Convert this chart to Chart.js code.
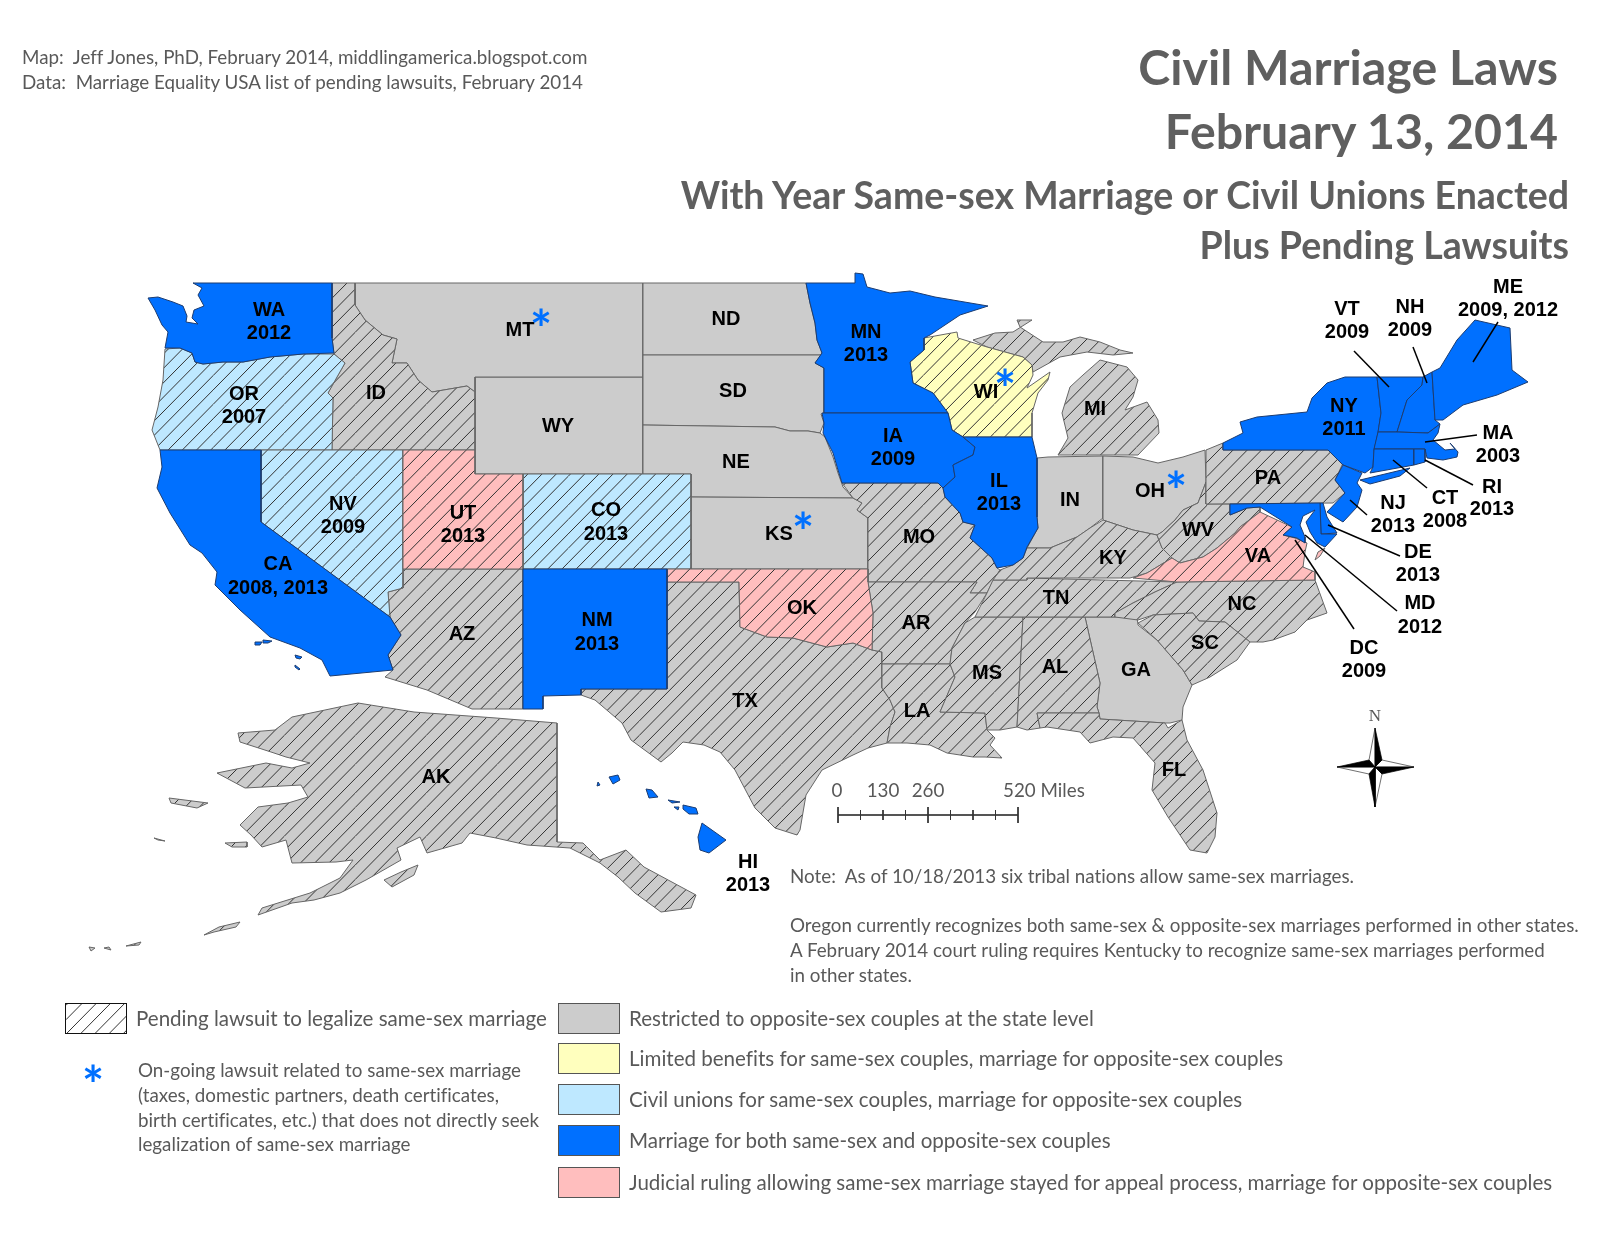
<!DOCTYPE html>
<html>
<head>
<meta charset="utf-8">
<title>Civil Marriage Laws</title>
<script src="https://cdn.jsdelivr.net/npm/chart.js@4"></script>
<style>
body { margin: 0; background: #fff; width: 1600px; height: 1237px; overflow: hidden; position: relative; font-family: Lato, sans-serif; color: #595959; font-variant-ligatures: none; }
canvas { position: absolute; left: 0; top: 0; }
.t { position: absolute; white-space: pre; line-height: 1; }
.r { transform: translateY(-50%); }
.title { font-weight: 700; right: 42px; font-size: 48.3px; color: #5f5f5f; }
.sub { font-weight: 700; right: 31px; font-size: 37.5px; color: #5f5f5f; }
.small { font-size: 18.8px; }
.leg { font-size: 20.55px; }
.swatch { position: absolute; width: 60px; height: 29px; border: 1px solid #555; }
</style>
</head>
<body>
<canvas id="map" width="1600" height="1237"></canvas>
<div class="t title r" style="top:66px">Civil Marriage Laws</div>
<div class="t title r" style="top:130px">February 13, 2014</div>
<div class="t sub r" style="top:195px">With Year Same-sex Marriage or Civil Unions Enacted</div>
<div class="t sub r" style="top:245px">Plus Pending Lawsuits</div>
<div class="t small r" style="left:22px;top:57px">Map:  Jeff Jones, PhD, February 2014, middlingamerica.blogspot.com</div>
<div class="t small r" style="left:22px;top:82px">Data:  Marriage Equality USA list of pending lawsuits, February 2014</div>
<div class="t small r" style="left:790px;top:876px">Note:  As of 10/18/2013 six tribal nations allow same-sex marriages.</div>
<div class="t small r" style="left:790px;top:925px">Oregon currently recognizes both same-sex &amp; opposite-sex marriages performed in other states.</div>
<div class="t small r" style="left:790px;top:950px">A February 2014 court ruling requires Kentucky to recognize same-sex marriages performed</div>
<div class="t small r" style="left:790px;top:975px">in other states.</div>
<div class="t small r" style="left:837px;top:790px;transform:translate(-50%,-50%)">0</div>
<div class="t small r" style="left:883px;top:790px;transform:translate(-50%,-50%)">130</div>
<div class="t small r" style="left:928px;top:790px;transform:translate(-50%,-50%)">260</div>
<div class="t small r" style="left:1003px;top:790px">520 Miles</div>
<div class="t r" style="left:1375px;top:715px;transform:translate(-50%,-50%);font-family:'Liberation Serif';font-size:17px">N</div>
<div id="legend"></div>

<script>
// law categories and legend text
const lawColors = { restricted: '#cccccc', limited: '#ffffbe', civil: '#bee8ff', marriage: '#0070ff', stayed: '#ffbebe' };
const legendKeys = ['restricted', 'limited', 'civil', 'marriage', 'stayed'];
const legendLabels = [
    'Restricted to opposite-sex couples at the state level',
    'Limited benefits for same-sex couples, marriage for opposite-sex couples',
    'Civil unions for same-sex couples, marriage for opposite-sex couples',
    'Marriage for both same-sex and opposite-sex couples',
    'Judicial ruling allowing same-sex marriage stayed for appeal process, marriage for opposite-sex couples'
];
const marriageStates = ['WA','CA','MN','IA','IL','NM','NY','VT','NH','ME','MA','CT','RI','NJ','DE','MD','HI'];
const civilStates = ['OR','NV','CO'];
const stayedStates = ['UT','OK','VA'];
const limitedStates = ['WI'];
const pendingStates = ['OR','NV','CO','UT','OK','VA','WI','ID','AZ','TX','MO','AR','LA','MS','AL','TN','KY','WV','NC','SC','FL','PA','MI','AK'];

// state outlines, flat x,y in map units
const WA = [193,283,332,283,332,338,334,353,303,354,270,357,243,362,223,362,203,364,195,362,192,353,180,348,165,348,168,332,162,325,155,310,148,298,158,297,173,302,183,306,187,316,186,322,198,324,192,318,194,310,204,306,198,295,202,288];
const OR = [165,349,180,348,192,353,195,362,203,364,223,362,243,362,270,357,303,354,334,354,345,363,337,377,328,393,333,398,332,450,160,450,152,430,158,407,163,380];
const CA = [160,450,261,450,261,522,390,617,401,635,388,655,393,670,330,676,322,660,300,648,270,637,240,610,215,585,217,572,202,553,190,545,170,513,157,488,162,467];
const CA2 = [255,642,262,642,260,645,255,645];
const CA3 = [263,640,272,641,268,643,263,643];
const CA4 = [295,655,302,657,300,659,296,658];
const CA5 = [295,665,300,669,299,670,295,667];
const NV = [261,450,403,450,403,588,388,592,390,617,261,522];
const ID = [332,283,355,283,355,305,365,320,383,335,397,339,392,363,407,363,418,380,432,392,467,386,475,392,475,450,332,450,333,398,328,393,337,377,345,363,334,354,332,338];
const MT = [355,283,643,283,643,377,475,377,475,392,467,386,432,392,418,380,407,363,392,363,397,339,383,335,365,320,355,305];
const WY = [475,377,643,377,643,474,475,474];
const UT = [403,450,475,450,475,474,523,474,523,569,403,569];
const AZ = [403,569,523,569,523,709,472,709,427,690,385,677,393,670,388,655,401,635,390,617,388,592,403,588];
const CO = [523,474,691,474,691,569,523,569];
const NM = [523,569,667,569,667,689,581,689,581,695,543,696,543,709,523,709];
const ND = [643,283,806,283,810,303,815,323,817,340,822,353,821,355,643,355];
const SD = [643,355,821,355,815,363,824,368,824,413,821,414,824,423,820,433,808,431,790,431,775,427,643,425];
const NE = [643,425,775,427,790,431,808,431,820,433,825,437,833,457,838,473,843,487,853,498,691,497,691,474,643,474];
const KS = [691,497,853,498,862,503,857,510,868,518,868,569,691,569];
const OK = [667,569,868,569,868,582,873,613,872,650,853,643,827,647,793,638,767,637,740,627,739,582,667,582];
const TX = [667,582,739,582,740,627,767,637,793,638,827,647,853,643,872,650,882,652,882,688,890,700,895,712,890,727,887,743,868,748,853,755,822,770,806,795,800,830,797,835,775,828,755,808,735,770,720,752,704,745,683,742,672,753,661,762,631,740,622,723,595,700,581,695,581,689,667,689];
const MN = [806,283,855,283,855,273,863,274,867,287,890,293,910,291,935,297,988,306,960,315,930,335,924,338,924,350,910,362,913,383,933,393,948,413,824,413,824,368,815,363,822,353,817,340,815,323,810,303];
const WI = [924,338,957,332,958,338,987,347,1023,357,1032,365,1033,375,1027,388,1050,372,1048,380,1038,393,1032,413,1032,437,963,437,952,430,948,413,933,393,913,383,910,362,924,350];
const IA = [822,413,948,413,952,430,963,437,975,447,973,455,953,465,955,477,943,488,938,483,842,483,838,470,833,453,823,433,824,423];
const IL = [963,437,1032,437,1037,458,1037,517,1038,528,1027,547,1023,558,1013,565,997,568,992,558,970,538,975,525,963,522,960,513,945,497,943,488,955,477,953,465,973,455,975,447];
const MO = [842,483,938,483,943,488,945,497,960,513,963,522,975,525,970,538,992,558,997,568,1000,570,992,583,987,593,970,593,977,582,868,582,868,518,857,510,862,503,853,498];
const AR = [868,582,977,582,970,593,987,593,975,612,965,623,952,648,950,664,882,664,882,652,872,650,873,613];
const LA = [882,664,950,664,955,677,940,712,985,713,987,730,995,738,990,745,1002,758,985,757,973,757,947,753,930,745,907,743,887,743,890,727,895,712,890,700,882,688];
const MS = [975,617,1023,617,1017,727,1000,730,987,730,985,713,940,712,955,677,950,664,952,648,965,623];
const AL = [1023,617,1085,617,1100,683,1097,707,1099,713,1037,713,1040,728,1027,730,1017,727];
const GA = [1085,617,1137,617,1138,625,1157,640,1183,670,1192,685,1183,707,1182,720,1170,723,1165,723,1100,719,1099,713,1097,707,1100,683];
const FL = [1037,713,1099,713,1100,719,1165,723,1168,728,1182,720,1187,740,1203,770,1217,813,1215,837,1207,853,1190,850,1168,817,1152,790,1155,763,1133,738,1113,737,1090,743,1080,732,1047,727,1040,728];
const SC = [1138,623,1153,615,1193,613,1199,621,1225,622,1250,642,1237,660,1210,677,1192,685,1183,670,1157,640];
const NC = [1115,613,1133,603,1155,592,1177,582,1315,580,1327,613,1307,620,1295,632,1273,640,1263,642,1250,642,1225,622,1199,621,1193,613,1153,615,1138,620,1115,617];
const TN = [975,617,987,593,993,580,1027,580,1027,578,1177,582,1155,592,1133,603,1115,613,1115,617,1085,617,1023,617];
const KY = [1000,570,1013,565,1023,558,1027,548,1050,548,1077,537,1090,528,1103,520,1133,530,1157,535,1162,548,1172,558,1147,573,1130,578,1027,578,1027,580,993,580];
const IN = [1037,458,1048,457,1103,456,1103,518,1090,528,1077,537,1050,548,1027,548,1038,528,1037,517];
const OH = [1103,456,1133,457,1158,463,1183,457,1205,450,1206,482,1198,503,1183,510,1175,520,1162,532,1157,535,1133,530,1103,520,1103,518];
const MI = [1058,455,1068,438,1062,413,1070,387,1083,375,1100,360,1127,367,1138,380,1133,397,1125,410,1147,402,1158,420,1159,433,1138,455];
const MI2 = [973,340,995,333,1013,332,1032,320,1017,320,1020,327,1043,342,1063,342,1080,337,1100,342,1120,350,1133,353,1113,355,1087,352,1060,357,1033,372,1032,365,1023,357,987,347];
const PA = [1206,450,1223,443,1223,450,1328,450,1343,463,1335,480,1345,493,1333,503,1206,504];
const NY = [1223,443,1243,433,1240,422,1257,417,1307,412,1312,398,1327,383,1345,377,1377,377,1381,413,1378,433,1374,450,1373,467,1365,473,1343,465,1328,450,1223,450];
const NY2 = [1360,480,1410,468,1400,476,1370,484];
const VT = [1377,377,1423,377,1422,385,1407,400,1397,432,1378,432,1381,413];
const NH = [1423,377,1432,372,1435,420,1440,424,1428,433,1397,432,1407,400,1422,385];
const ME = [1432,372,1440,368,1457,340,1475,320,1510,328,1512,370,1528,382,1497,395,1463,405,1443,420,1435,420];
const MA = [1378,432,1397,432,1428,433,1440,424,1438,433,1433,440,1445,450,1455,449,1450,443,1458,452,1457,457,1443,460,1427,458,1425,449,1374,449];
const CT = [1374,449,1414,449,1414,465,1370,473,1373,467];
const RI = [1414,449,1425,449,1425,462,1414,465];
const NJ = [1343,465,1362,473,1357,483,1362,490,1357,507,1343,522,1327,512,1345,493,1335,480];
const DE = [1320,503,1323,503,1327,517,1337,533,1321,534];
const MD = [1230,504,1320,503,1321,534,1337,534,1325,547,1317,543,1310,532,1306,522,1315,510,1303,516,1300,525,1305,537,1305,543,1297,538,1283,535,1292,527,1260,507,1247,508,1230,515];
const VA = [1133,578,1147,573,1172,558,1180,563,1203,557,1217,548,1235,533,1240,527,1260,512,1292,527,1283,535,1295,538,1307,543,1305,552,1303,567,1315,572,1315,580,1177,582];
const VA2 = [1325,548,1320,556,1315,560,1318,552];
const WV = [1206,504,1230,504,1230,515,1247,508,1260,507,1260,512,1240,527,1235,533,1217,548,1203,557,1180,563,1172,558,1162,548,1157,535,1162,532,1175,520,1183,510,1198,503,1206,482];
const AK = [557,723,557,842,583,843,600,860,626,850,644,867,696,895,691,908,661,912,635,893,618,877,600,863,570,848,527,845,496,838,470,833,462,843,427,853,420,837,397,848,401,860,366,880,340,893,314,900,292,903,258,915,262,908,310,893,340,878,353,860,336,862,292,863,286,840,262,847,251,835,240,825,258,807,288,803,308,797,301,785,245,788,217,773,266,763,292,768,310,763,286,757,271,752,240,742,238,733,275,730,292,717,358,703,414,712,496,718];
const AK2 = [384,880,401,872,418,865,414,875,392,887];
const AK3 = [169,798,208,803,197,808,171,803];
const AK4 = [225,843,247,842,247,847,232,847];
const AK5 = [204,935,219,927,240,922,236,927,214,932];
const AK6 = [126,946,141,942,139,945];
const AK7 = [89,947,95,948,91,951];
const AK8 = [104,948,109,947,111,950];
const AK9 = [154,838,165,841,158,840];
const HI = [702,823,726,840,709,853,700,850,698,837];
const HI2 = [683,805,696,808,698,814,689,814,683,809];
const HI3 = [668,800,680,802,672,803];
const HI4 = [674,807,679,807,678,810];
const HI5 = [646,789,652,790,658,797,649,798];
const HI6 = [609,777,618,775,620,780,613,784];
const HI7 = [598,782,600,785,597,786];

const stateOutlines = [
    ['GA',GA],['IN',IN],['OH',OH],['WY',WY],['MT',MT],['ND',ND],['SD',SD],['NE',NE],['KS',KS],
    ['ID',ID],['AZ',AZ],['TX',TX],['MO',MO],['AR',AR],['LA',LA],['MS',MS],['AL',AL],['TN',TN],['KY',KY],['WV',WV],['NC',NC],['SC',SC],['FL',FL],['PA',PA],['MI',MI],['MI',MI2],
    ['AK',AK],['AK',AK2],['AK',AK3],['AK',AK4],['AK',AK5],['AK',AK6],['AK',AK7],['AK',AK8],['AK',AK9],
    ['OR',OR],['NV',NV],['CO',CO],['UT',UT],['OK',OK],['VA',VA],['VA',VA2],['WI',WI],
    ['WA',WA],['CA',CA],['CA',CA2],['CA',CA3],['CA',CA4],['CA',CA5],['MN',MN],['IA',IA],['IL',IL],['NM',NM],['NY',NY],['NY',NY2],['VT',VT],['NH',NH],['ME',ME],['MA',MA],['CT',CT],['RI',RI],['NJ',NJ],['DE',DE],['MD',MD],
    ['HI',HI],['HI',HI2],['HI',HI3],['HI',HI4],['HI',HI5],['HI',HI6],['HI',HI7]
];

// labels on the map: text, x, y
const stateLabels = [
    ['WA',269,310],['2012',269,333],['OR',244,394],['2007',244,417],['ID',376,393],['MT',520,330],
    ['NV',343,504],['2009',343,527],['UT',463,513],['2013',463,536],['CA',278,564],['2008, 2013',278,588],
    ['AZ',462,634],['ND',726,319],['SD',733,391],['WY',558,426],['NE',736,462],['KS',779,534],
    ['CO',606,510],['2013',606,534],['NM',597,620],['2013',597,644],['OK',802,608],['TX',745,701],
    ['MN',866,332],['2013',866,355],['IA',893,436],['2009',893,459],['MO',919,537],['AR',916,623],
    ['LA',917,711],['MS',987,673],['AL',1055,667],['TN',1056,598],['GA',1136,670],['SC',1205,643],
    ['NC',1242,604],['FL',1174,770],['KY',1113,558],['IN',1070,500],['OH',1150,491],['MI',1095,409],
    ['WI',986,392],['IL',999,481],['2013',999,504],['WV',1198,530],['VA',1258,556],['PA',1268,478],
    ['NY',1344,406],['2011',1344,429],['VT',1347,309],['2009',1347,332],['NH',1410,307],['2009',1410,330],
    ['ME',1508,287],['2009, 2012',1508,310],['MA',1498,433],['2003',1498,456],['RI',1492,487],['2013',1492,509],
    ['CT',1445,498],['2008',1445,521],['NJ',1393,503],['2013',1393,526],['DE',1418,552],['2013',1418,575],
    ['MD',1420,603],['2012',1420,627],['DC',1364,648],['2009',1364,671],['AK',436,777],['HI',748,862],['2013',748,885]
];
const lawsuitMarks = [[541,331],[803,534],[1005,391],[1176,493]];

// leader lines from labels to the small states
const leaderLines = [
    [1354,351,1389,387],[1413,347,1427,383],[1498,322,1473,362],[1477,435,1425,442],[1473,485,1425,460],
    [1427,488,1393,460],[1367,515,1350,500],[1400,556,1328,525],[1397,611,1305,535],[1354,629,1295,540]
];

// scale bar and north arrow
const scaleBarEnds = [838,1018];
const scaleTickX = [838,860.5,883,905.5,928,950.5,973,995.5,1018];
const scaleMajorX = [838,928,1018];
const compassBlack = [
    [1375,728,1382,760,1375,767],[1414,767,1382,774,1375,767],[1375,807,1369,774,1375,767],[1337,767,1369,760,1375,767]
];
const compassWhite = [
    [1375,728,1369,760,1375,767],[1414,767,1382,760,1375,767],[1375,807,1382,774,1375,767],[1337,767,1369,774,1375,767]
];

function toPoints(flat) {
    const pts = [];
    for (let i = 0; i < flat.length; i += 2) pts.push({ x: flat[i], y: flat[i + 1] });
    pts.push({ x: flat[0], y: flat[1] });
    return pts;
}

// diagonal hatch tile (5 periods), optionally on a coloured ground
function hatchTile(color) {
    const tile = document.createElement('canvas');
    tile.width = 71;
    tile.height = 72;
    const c = tile.getContext('2d');
    if (color) {
        c.fillStyle = color;
        c.fillRect(0, 0, 71, 72);
    }
    c.strokeStyle = '#333';
    c.lineWidth = 1;
    c.beginPath();
    for (let k = 0; k < 11; k++) {
        const n = k + 0.09;
        c.moveTo(n * 71 / 5, 0);
        c.lineTo(0, n * 72 / 5);
    }
    c.stroke();
    return tile;
}

const ctx = document.getElementById('map').getContext('2d');
const patterns = {};
legendKeys.forEach(k => { patterns[k] = ctx.createPattern(hatchTile(lawColors[k]), 'repeat'); });

function lawOf(code) {
    if (marriageStates.includes(code)) return 'marriage';
    if (civilStates.includes(code)) return 'civil';
    if (stayedStates.includes(code)) return 'stayed';
    if (limitedStates.includes(code)) return 'limited';
    return 'restricted';
}

const polyBase = { showLine: true, pointRadius: 0, tension: 0, clip: false };
const datasets = stateOutlines.map(([code, flat]) => {
    const law = lawOf(code);
    return {
        ...polyBase,
        label: code,
        data: toPoints(flat),
        fill: 'shape',
        backgroundColor: pendingStates.includes(code) ? patterns[law] : lawColors[law],
        borderColor: law === 'marriage' ? '#1c3c70' : '#666',
        borderWidth: 1
    };
});

leaderLines.forEach(l => {
    datasets.push({ ...polyBase, data: [{ x: l[0], y: l[1] }, { x: l[2], y: l[3] }], borderColor: '#000', borderWidth: 1.5, fill: false });
});
datasets.push({ ...polyBase, data: scaleBarEnds.map(x => ({ x, y: 815 })), borderColor: '#555', borderWidth: 2, fill: false });
scaleTickX.forEach(x => {
    const h = scaleMajorX.includes(x) ? 8 : 5;
    datasets.push({ ...polyBase, data: [{ x, y: 815 - h }, { x, y: 815 + h }], borderColor: '#333', borderWidth: 1, fill: false });
});
compassWhite.forEach(f => {
    datasets.push({ ...polyBase, data: toPoints(f), fill: 'shape', backgroundColor: '#fff', borderColor: '#333', borderWidth: 0.7 });
});
compassBlack.forEach(f => {
    datasets.push({ ...polyBase, data: toPoints(f), fill: 'shape', backgroundColor: '#000', borderColor: '#000', borderWidth: 0.7 });
});
// Chart.js paints the first dataset last
datasets.reverse();

// state names, years and the blue asterisks
const mapText = {
    id: 'mapText',
    afterDatasetsDraw(chart) {
        const { ctx, scales: { x, y } } = chart;
        ctx.save();
        ctx.textAlign = 'center';
        ctx.textBaseline = 'middle';
        ctx.fillStyle = '#000';
        ctx.font = 'bold 20px "Liberation Sans"';
        stateLabels.forEach(([text, px, py]) => ctx.fillText(text, x.getPixelForValue(px), y.getPixelForValue(py)));
        ctx.fillStyle = lawColors.marriage;
        ctx.font = 'bold 52px Lato';
        lawsuitMarks.forEach(([px, py]) => ctx.fillText('*', x.getPixelForValue(px), y.getPixelForValue(py)));
        ctx.restore();
    }
};

new Chart(ctx, {
    type: 'scatter',
    data: { datasets },
    plugins: [mapText],
    options: {
        responsive: false,
        animation: false,
        devicePixelRatio: 1,
        layout: { padding: 0 },
        plugins: { legend: { display: false }, tooltip: { enabled: false }, title: { display: false } },
        scales: {
            x: { type: 'linear', min: 0, max: 1600, display: false },
            y: { type: 'linear', min: 0, max: 1237, reverse: true, display: false }
        }
    }
});

// legend beside the map
const legend = document.getElementById('legend');
const swatchTops = [1003, 1043, 1084, 1125, 1167];
legendKeys.forEach((key, i) => {
    const box = document.createElement('div');
    box.className = 'swatch';
    box.style.cssText = `left:558px;top:${swatchTops[i]}px;background:${lawColors[key]}`;
    legend.appendChild(box);
    const label = document.createElement('div');
    label.className = 't leg r';
    label.style.cssText = `left:629px;top:${swatchTops[i] + 15}px`;
    label.textContent = legendLabels[i];
    legend.appendChild(label);
});
const hatchBox = document.createElement('div');
hatchBox.className = 'swatch';
hatchBox.style.cssText = `left:65px;top:1003px;border-color:#111;background-image:url(${hatchTile(null).toDataURL()})`;
legend.appendChild(hatchBox);
const pendingText = [
    ['Pending lawsuit to legalize same-sex marriage', 136, 1018, 'leg'],
    ['On-going lawsuit related to same-sex marriage', 138, 1070, 'small'],
    ['(taxes, domestic partners, death certificates,', 138, 1095, 'small'],
    ['birth certificates, etc.) that does not directly seek', 138, 1120, 'small'],
    ['legalization of same-sex marriage', 138, 1144, 'small']
];
pendingText.forEach(([text, left, top, cls]) => {
    const d = document.createElement('div');
    d.className = 't r ' + cls;
    d.style.cssText = `left:${left}px;top:${top}px`;
    d.textContent = text;
    legend.appendChild(d);
});
const star = document.createElement('div');
star.className = 't';
star.style.cssText = `left:82px;top:1058px;font:bold 52px Lato;line-height:1;color:${lawColors.marriage}`;
star.textContent = '*';
legend.appendChild(star);
</script>
</body>
</html>
